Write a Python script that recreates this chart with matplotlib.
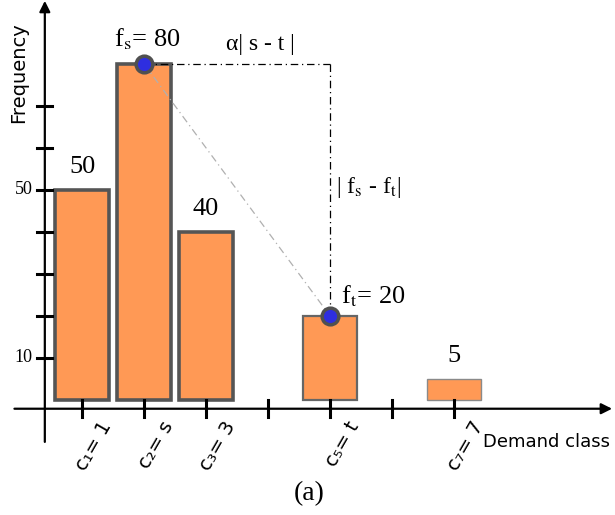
import matplotlib
matplotlib.use('Agg')
import matplotlib.pyplot as plt

plt.rcParams['mathtext.fontset'] = 'stix'

# Data
classes = [1, 2, 3, 5, 7]
freqs = [50, 80, 40, 20, 5]
value_labels = ['50', '', '40', '', '5']
tick_positions = [1, 2, 3, 4, 5, 6, 7]
tick_labels = ['c\u2081= 1', 'c\u2082= s', 'c\u2083= 3', '', 'c\u2085= t', '', 'c\u2087= 7']
ytick_positions = [10, 20, 30, 40, 50, 60, 70]
ytick_labels = ['10', '', '', '', '50', '', '']
s_class, t_class = 2, 5
f_s, f_t = 80, 20

edge_colors = ['#555555', '#555555', '#555555', '#666666', '#8a8a8a']
edge_widths = [2.6, 2.6, 2.6, 1.6, 1.0]
bar_color = '#ff9955'
serif = 'Liberation Serif'

fig = plt.figure(figsize=(6.15, 5.15), dpi=100)
ax = fig.add_axes([0, 0, 1, 1])
ax.set_xlim(-0.323, 9.597)
ax.set_ylim(-27.4, 95.2)
ax.axis('off')

axis_y = -2.1
axis_x = 0.40

# Axes with arrows
ax.annotate('', xy=(9.55, axis_y), xytext=(-0.09, axis_y),
            arrowprops=dict(arrowstyle='-|>', color='black', lw=1.6,
                            mutation_scale=16, shrinkA=0, shrinkB=0))
ax.annotate('', xy=(axis_x, 95.0), xytext=(axis_x, -10.0),
            arrowprops=dict(arrowstyle='-|>', color='black', lw=1.6,
                            mutation_scale=16, shrinkA=0, shrinkB=0))

# Bars
ax.bar(classes, freqs, width=0.86, color=bar_color,
       edgecolor=edge_colors, linewidth=edge_widths, zorder=2)

# Tick marks on x axis
for x in tick_positions:
    ax.plot([x, x], [axis_y + 2.0, axis_y - 2.0], color='black', lw=2.2, zorder=3)
for x, lab in zip(tick_positions, tick_labels):
    if lab:
        ax.text(x + 0.27, axis_y - 2.3, lab, rotation=60, ha='right', va='top',
                rotation_mode='anchor', fontsize=14, family='DejaVu Sans')

# Tick marks on y axis
for y, lab in zip(ytick_positions, ytick_labels):
    ax.plot([axis_x - 0.13, axis_x + 0.12], [y, y], color='black', lw=2.2, zorder=3)
    if lab:
        ax.text(axis_x - 0.2, y, lab, ha='right', va='center', fontsize=13,
                family=serif)

# Value labels
for x, f, lab in zip(classes, freqs, value_labels):
    if lab:
        ax.text(x, f + 5.5, lab, ha='center', va='center', fontsize=19, family=serif)

# Distance construction lines
ax.plot([s_class, t_class], [f_s, f_s], color='black', lw=0.9,
        linestyle=(0, (6, 3, 1, 3)), zorder=3)
ax.plot([t_class, t_class], [f_s, f_t], color='black', lw=0.9,
        linestyle=(0, (6, 3, 1, 3)), zorder=3)
ax.plot([s_class, t_class], [f_s, f_t], color='#b0b0b0', lw=0.9,
        linestyle=(0, (6, 3, 1, 3)), zorder=3)

# Points
ax.plot([s_class, t_class], [f_s, f_t], 'o', markersize=12,
        markerfacecolor='#2e2ee0', markeredgecolor='#505050',
        markeredgewidth=2.5, zorder=4)

# Annotations
ax.text(s_class + 0.05, 85.8, r'f$_\mathrm{s}$= 80', ha='center', va='center',
        fontsize=19, family=serif)
ax.text(t_class + 0.17, 24.8, r'f$_\mathrm{t}$= 20', ha='left', va='center',
        fontsize=19, family=serif)
ax.text(3.87, 84.5, '\u03b1| s - t |', ha='center', va='center',
        fontsize=17, family=serif)
ax.text(t_class + 0.1, 50.5, r'| f$_\mathrm{s}$ - f$_\mathrm{t}$|', ha='left',
        va='center', fontsize=17, family=serif)

# Axis titles
ax.text(-0.03, 78, 'Frequency', rotation=90, ha='center', va='center',
        fontsize=14, family='DejaVu Sans')
ax.text(7.47, -10.0, 'Demand class', ha='left', va='center',
        fontsize=13, family='DejaVu Sans')

# Caption
ax.text(4.67, -22.3, '(a)', ha='center', va='center', fontsize=20, family=serif)

fig.savefig('out.png', dpi=100)
